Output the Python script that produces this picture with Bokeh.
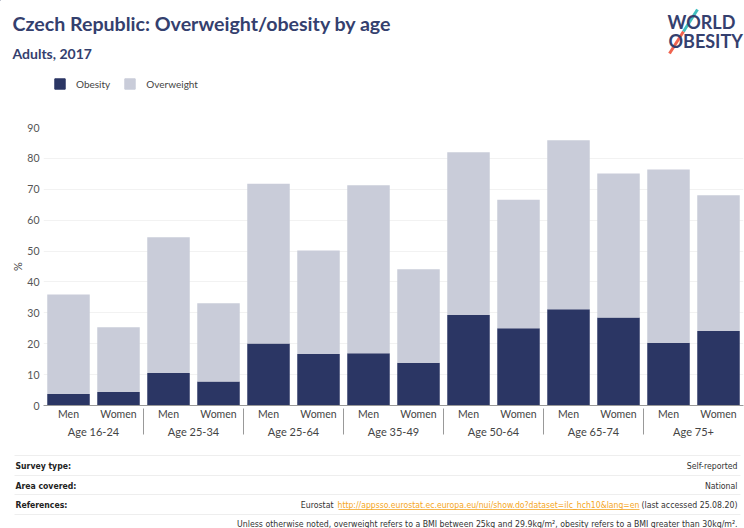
from bokeh.plotting import figure
from bokeh.models import (FactorRange, ColumnDataSource, Label, Legend, LegendItem, Range1d)
from bokeh.layouts import column, row
from bokeh.embed import file_html
from bokeh.resources import INLINE

# ---------------- data ----------------
groups = ["Age 16-24", "Age 25-34", "Age 25-64", "Age 35-49", "Age 50-64", "Age 65-74", "Age 75+"]
sexes = ["Men", "Women"]
obesity = [3.7, 4.4, 10.5, 7.8, 20.1, 16.7, 16.9, 13.8, 29.3, 25.0, 31.2, 28.5, 20.3, 24.1]
overweight = [32.2, 20.9, 44.0, 25.3, 51.7, 33.5, 54.4, 30.3, 52.7, 41.6, 54.7, 46.6, 56.1, 44.0]
y_ticks = [0, 10, 20, 30, 40, 50, 60, 70, 80, 90]
series_names = ["Obesity", "Overweight"]

title_text = "Czech Republic: Overweight/obesity by age"
subtitle_text = "Adults, 2017"
footer_rows = [("Survey type:", "Self-reported"), ("Area covered:", "National")]
ref_prefix = "Eurostat"
ref_url = "http://appsso.eurostat.ec.europa.eu/nui/show.do?dataset=ilc_hch10&lang=en"
ref_suffix = "(last accessed 25.08.20)"
note_text = ("Unless otherwise noted, overweight refers to a BMI between 25kg and 29.9kg/m\u00b2, "
             "obesity refers to a BMI greater than 30kg/m\u00b2.")

# ---------------- styles ----------------
NAVY = "#2b3664"
LIGHT = "#c9ccd9"
TITLE_C = "#34406e"
TXT = "#444444"
FONT = "Lato"
NARROW = "'Liberation Sans Narrow', 'DejaVu Sans Condensed', 'Roboto', sans-serif"
W = 744
H_HEAD, H_MAIN, H_FOOT = 110, 335, 83


def blank(height, y0):
    f = figure(width=W, height=height, output_backend="svg", toolbar_location=None,
               x_range=Range1d(0, W), y_range=Range1d(y0 + height, y0),
               x_axis_location=None, y_axis_location=None,
               min_border=0, outline_line_color=None)
    f.xgrid.grid_line_color = None
    f.ygrid.grid_line_color = None
    return f


def lab(f, text, x, y, size, color=TXT, style="normal", align="left", font=FONT):
    f.add_layout(Label(x=x, y=y, text=text, text_font=font, text_font_size=size,
                       text_font_style=style, text_color=color, text_align=align,
                       text_baseline="middle"))


# ---------------- header ----------------
head = blank(H_HEAD, 0)
lab(head, title_text, 12, 23, "19.6px", TITLE_C, "bold")
lab(head, subtitle_text, 12, 53, "14px", TITLE_C, "bold")
lab(head, "WORLD", 667, 21, "18px", TITLE_C, "bold")
lab(head, "OBESITY", 668, 40, "18px", TITLE_C, "bold")
head.segment(x0=[669, 683], y0=[53, 31], x1=[683, 697], y1=[31, 9],
             line_color=["#f0644f", "#3fbfbf"], line_width=3)
leg_r = [head.vbar(x=[-1000], top=[-1000], bottom=[-1001], width=1, color=c)
         for c in [NAVY, LIGHT]]
legend = Legend(items=[LegendItem(label=n, renderers=[r]) for n, r in zip(series_names, leg_r)],
                orientation="horizontal", location=(53, 20),
                glyph_width=13, glyph_height=13, label_height=13,
                label_standoff=10, spacing=13, padding=0, margin=0,
                border_line_color=None, background_fill_alpha=0,
                label_text_font=FONT, label_text_font_size="10px",
                label_text_color=TXT)
head.add_layout(legend, "center")

# ---------------- main chart ----------------
factors = [(g, s) for g in groups for s in sexes]
src = ColumnDataSource(dict(x=factors, Obesity=obesity, Overweight=overweight))

p = figure(width=W, height=H_MAIN, output_backend="svg", toolbar_location=None,
           x_range=FactorRange(*factors, group_padding=0, factor_padding=0,
                               subgroup_padding=0, range_padding=0),
           y_range=Range1d(0, 90),
           min_border_left=43, min_border_right=1, min_border_top=17,
           min_border_bottom=40, outline_line_color=None)

p.vbar_stack(series_names, x="x", width=0.85, source=src,
             color=[NAVY, LIGHT], line_color=None)

p.xgrid.grid_line_color = None
p.ygrid.grid_line_color = "#f2f2f2"
p.yaxis.ticker = y_ticks
p.yaxis.axis_line_color = None
p.yaxis.major_tick_line_color = None
p.yaxis.minor_tick_line_color = None
p.yaxis.major_tick_out = 0
p.yaxis.major_label_standoff = 4
p.yaxis.major_label_text_font = FONT
p.yaxis.major_label_text_font_size = "10.5px"
p.yaxis.major_label_text_color = "#555555"
p.yaxis.axis_label = "%"
p.yaxis.axis_label_text_font = FONT
p.yaxis.axis_label_text_font_size = "11px"
p.yaxis.axis_label_text_font_style = "normal"
p.yaxis.axis_label_text_color = TXT
p.yaxis.axis_label_standoff = 0

p.xaxis.axis_line_color = "#999999"
p.xaxis.major_tick_line_color = None
p.xaxis.minor_tick_line_color = None
p.xaxis.major_tick_out = 0
p.xaxis.major_label_standoff = 2
p.xaxis.major_label_text_font = FONT
p.xaxis.major_label_text_font_size = "10.5px"
p.xaxis.major_label_text_color = TXT
p.xaxis.group_text_font = FONT
p.xaxis.group_text_font_size = "11px"
p.xaxis.group_text_font_style = "normal"
p.xaxis.group_text_color = TXT
p.xaxis.separator_line_color = "#999999"
p.xaxis.separator_line_width = 1

# ---------------- footer ----------------
y0f = H_HEAD + H_MAIN
foot = blank(H_FOOT, y0f)
line_y = [455, 475, 494, 514]
foot.segment(x0=[14] * 4, y0=line_y, x1=[740] * 4, y1=line_y,
             line_color="#eeeeee", line_width=1)
for (k, v), cy in zip(footer_rows, [465, 485]):
    lab(foot, k, 15, cy, "8.6px", "#222222", "bold", font=NARROW)
    lab(foot, v, 737, cy, "8.7px", "#333333", align="right", font=NARROW)
lab(foot, "References:", 15, 504, "8.6px", "#222222", "bold", font=NARROW)
lab(foot, ref_suffix, 737, 504, "8.7px", "#333333", align="right", font=NARROW)
lab(foot, ref_url, 639, 504, "8.6px", "#f5a623", align="right", font=NARROW)
foot.segment(x0=[338], y0=[509], x1=[639], y1=[509], line_color="#f5a623", line_width=0.8)
lab(foot, ref_prefix, 333, 504, "8.7px", "#333333", align="right", font=NARROW)
lab(foot, note_text, 737, 523, "8.7px", "#333333", align="right", font=NARROW)

layout = column(row(head), p, row(foot), spacing=0)
open("out.html", "w").write(file_html(layout, INLINE))
